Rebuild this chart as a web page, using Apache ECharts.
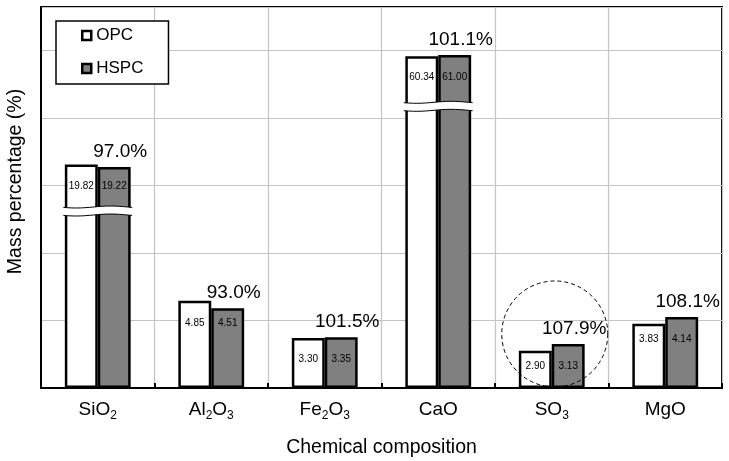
<!DOCTYPE html>
<html>
<head>
<meta charset="utf-8">
<script src="https://cdn.jsdelivr.net/npm/echarts@6/dist/echarts.min.js"></script>
<style>html,body{margin:0;padding:0;background:#fff}#c{width:729px;height:461px}</style>
</head>
<body>
<div id="c"></div>
<script>
// Categories (digits are rendered as subscripts)
const categories = ['SiO2', 'Al2O3', 'Fe2O3', 'CaO', 'SO3', 'MgO'];
// Measured mass percentages (printed inside the bars)
const opcValues = [19.82, 4.85, 3.30, 60.34, 2.90, 3.83];
const hspcValues = [19.22, 4.51, 3.35, 61.00, 3.13, 4.14];
// HSPC / OPC ratio labels
const ratioLabels = ['97.0%', '93.0%', '101.5%', '101.1%', '107.9%', '108.1%'];
// Drawn bar heights on the (unlabelled, broken) axis, in gridline units
const opcHeights = [3.31, 1.29, 0.74, 4.91, 0.55, 0.95];
const hspcHeights = [3.27, 1.18, 0.75, 4.93, 0.65, 1.05];
// Axis-break marks: [category index, level]
const breakMarks = [[0, 2.62], [3, 4.17]];
// Dashed highlight circle: [category index, level]
const highlightMarks = [[4, 0.80]];
const yTicks = [0, 1, 2, 3, 4, 5];

const FONT = 'Liberation Sans, Arial, sans-serif';
const BARW = 0.29;

const chart = echarts.init(document.getElementById('c'), null, {renderer: 'canvas'});

function subFmt(v) { return v.replace(/(\d)/g, '{s|$1}'); }

const option = {
  animation: false,
  backgroundColor: '#fff',
  textStyle: {fontFamily: FONT, color: '#000'},
  grid: {left: 41, right: 7, top: 7, bottom: 73, containLabel: false, outerBoundsMode: 'none',
    show: true, borderColor: '#000', borderWidth: 2, backgroundColor: '#fff'},
  legend: {
    orient: 'vertical', left: 56, top: 21,
    padding: [6, 25, 7, 25], itemGap: 16,
    borderColor: '#000', borderWidth: 1.5, backgroundColor: '#fff',
    itemWidth: 9, itemHeight: 9, icon: 'rect',
    textStyle: {fontSize: 17, fontFamily: FONT, color: '#000'},
    data: [
      {name: 'OPC', itemStyle: {color: '#fff', borderColor: '#000', borderWidth: 2.5}},
      {name: 'HSPC', itemStyle: {color: '#808080', borderColor: '#000', borderWidth: 2.5}}
    ]
  },
  xAxis: {
    type: 'category', data: categories,
    name: 'Chemical composition', nameLocation: 'middle', nameGap: 50,
    nameTextStyle: {fontSize: 19.5, fontFamily: FONT, color: '#000'},
    axisLine: {show: true, lineStyle: {color: '#000', width: 2}},
    axisTick: {show: true, inside: true, length: 5, interval: 0, lineStyle: {color: '#000', width: 2}},
    splitLine: {show: true, interval: 0, lineStyle: {color: '#c4c4c4', width: 1.2}},
    axisLabel: {
      interval: 0, margin: 22, fontSize: 19, fontFamily: FONT, color: '#000',
      formatter: subFmt,
      lineHeight: 24, verticalAlign: 'middle',
      rich: {s: {fontSize: 12, fontFamily: FONT, color: '#000', verticalAlign: 'bottom', lineHeight: 13}}
    }
  },
  yAxis: {
    type: 'value', min: yTicks[0], max: 5.64, interval: 1,
    name: 'Mass percentage (%)', nameLocation: 'middle', nameGap: 15,
    nameTextStyle: {fontSize: 19.5, fontFamily: FONT, color: '#000', padding: [0, 0, 0, 32]},
    axisLine: {show: true, lineStyle: {color: '#000', width: 2}},
    axisTick: {show: false},
    axisLabel: {show: false},
    splitLine: {show: true, lineStyle: {color: '#c4c4c4', width: 1.2}}
  },
  series: [
    {
      name: 'OPC', type: 'bar', data: opcHeights, barWidth: (BARW * 100) + '%', barGap: '0%',
      itemStyle: {color: '#fff', borderColor: '#000', borderWidth: 2.5}, z: 2
    },
    {
      name: 'HSPC', type: 'bar', data: hspcHeights, barWidth: (BARW * 100) + '%', barGap: '0%',
      itemStyle: {color: '#808080', borderColor: '#000', borderWidth: 2.5}, z: 2
    },
    {
      // axis-break bands
      type: 'custom', z: 5, silent: true,
      data: breakMarks,
      renderItem: function (params, api) {
        const p = api.coord([api.value(0), api.value(1)]);
        const w = api.size([1, 0])[0] * BARW;
        const L = p[0] - w - 1.5, R = p[0] + w + 1.5;
        const top = [], bot = [];
        const n = 16;
        for (let i = 0; i <= n; i++) {
          const t = i / n;
          const x = L + (R - L) * t;
          const dy = 1.0 * Math.sin(Math.PI * 2 * t + 0.4);
          top.push([x, p[1] - 4 + dy]);
          bot.push([x, p[1] + 4 + dy]);
        }
        const poly = top.concat(bot.slice().reverse());
        return {
          type: 'group', children: [
            {type: 'polygon', shape: {points: poly}, style: {fill: '#fff', stroke: null}},
            {type: 'polyline', shape: {points: top}, style: {stroke: '#000', lineWidth: 1, fill: null}},
            {type: 'polyline', shape: {points: bot}, style: {stroke: '#000', lineWidth: 1, fill: null}}
          ]
        };
      }
    },
    {
      // value labels inside bars
      type: 'custom', z: 6, silent: true,
      data: categories.map((c, i) => [i, opcHeights[i], hspcHeights[i], opcValues[i], hspcValues[i]]),
      renderItem: function (params, api) {
        const i = api.value(0);
        const hi = Math.max(api.value(1), api.value(2));
        const p = api.coord([i, hi]);
        const w = api.size([1, 0])[0] * BARW;
        const y = p[1] + 22;
        return {
          type: 'group', children: [
            {type: 'text', style: {x: p[0] - w / 2, y: y, text: api.value(3).toFixed(2), fontSize: 10, fontFamily: FONT, fill: '#000', align: 'center', verticalAlign: 'middle'}},
            {type: 'text', style: {x: p[0] + w / 2, y: y, text: api.value(4).toFixed(2), fontSize: 10, fontFamily: FONT, fill: '#000', align: 'center', verticalAlign: 'middle'}}
          ]
        };
      }
    },
    {
      // ratio labels above the HSPC bars
      type: 'custom', z: 6, silent: true,
      data: categories.map((c, i) => [i, hspcHeights[i]]),
      renderItem: function (params, api) {
        const i = api.value(0);
        const p = api.coord([i, api.value(1)]);
        const w = api.size([1, 0])[0] * BARW;
        return {
          type: 'text',
          style: {x: p[0] + w / 2 + 6, y: p[1] - 6, text: ratioLabels[params.dataIndex], fontSize: 19, fontFamily: FONT, fill: '#000', align: 'center', verticalAlign: 'bottom'}
        };
      }
    },
    {
      // dashed highlight circle
      type: 'custom', z: 7, silent: true,
      data: highlightMarks,
      renderItem: function (params, api) {
        const p = api.coord([api.value(0), api.value(1)]);
        return {
          type: 'circle',
          shape: {cx: p[0] + 3, cy: p[1], r: 53},
          style: {fill: null, stroke: '#000', lineWidth: 1, lineDash: [4, 3]}
        };
      }
    }
  ]
};
chart.setOption(option);
</script>
</body>
</html>
